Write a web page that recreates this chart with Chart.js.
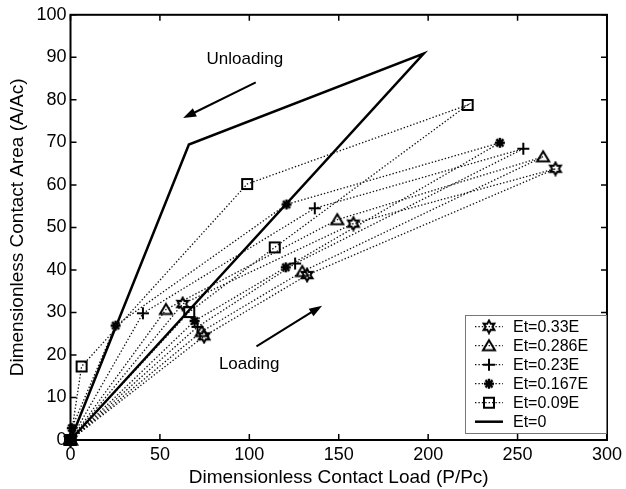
<!DOCTYPE html>
<html><head><meta charset="utf-8">
<script src="https://cdn.jsdelivr.net/npm/chart.js@4.4.0/dist/chart.umd.min.js"></script>
<style>html,body{margin:0;padding:0;background:#fff;}#wrap{width:626px;height:489px;}</style>
</head><body><div id="wrap"><canvas id="c" width="626" height="489"></canvas></div>
<script>
// ---------- data ----------
const seriesLabels = ['Et=0.33E','Et=0.286E','Et=0.23E','Et=0.167E','Et=0.09E','Et=0'];
const load033  = [0, 74.7, 132.3, 271.2, 158.2, 62.7, 0];
const area033  = [0, 24.4, 38.8, 63.8, 50.9, 32.0, 0];
const load0286 = [0, 73.3, 129.6, 264.3, 149.2, 53.4, 0];
const area0286 = [0, 25.5, 39.6, 66.6, 51.8, 30.7, 0];
const load023  = [0, 71.0, 125.6, 253.2, 136.6, 40.5, 0];
const area023  = [0, 26.6, 41.5, 68.5, 54.5, 29.8, 0];
const load0167 = [0, 69.4, 120.4, 240.1, 120.8, 25.2, 0.7, 0];
const area0167 = [0, 28.0, 40.6, 69.9, 55.4, 26.9, 2.8, 0];
const load009  = [0, 66.4, 114.2, 222.1, 98.8, 6.2, 0];
const area009  = [0, 30.1, 45.3, 78.8, 60.2, 17.3, 0];
const load0    = [0, 197.5, 66.2, 0];
const area0    = [0, 90.9, 69.5, 0];
const xTickValues = [0, 50, 100, 150, 200, 250, 300];
const yTickValues = [0, 10, 20, 30, 40, 50, 60, 70, 80, 90, 100];
const noteTexts = ['Unloading', 'Loading'];
const noteX = [97.5, 99.9];
const noteY = [89.5, 17.8];
const arrowFromX = [103.6, 104.0];
const arrowFromY = [84.1, 22.0];
const arrowToX = [63.0, 140.7];
const arrowToY = [75.7, 31.6];

const FONT = "'Liberation Sans', Arial, Helvetica, sans-serif";

// ---------- marker images ----------
function makeMarker(kind) {
  const s = 16, c = document.createElement('canvas');
  c.width = s; c.height = s;
  const g = c.getContext('2d');
  g.strokeStyle = '#000'; g.fillStyle = '#000'; g.lineWidth = 2;
  const m = s / 2;
  if (kind === 'hex') {
    g.beginPath();
    for (let i = 0; i < 12; i++) {
      const r = i % 2 === 0 ? 6.2 : 3.4;
      const a = -Math.PI / 2 + i * Math.PI / 6;
      const px = m + r * Math.cos(a), py = m + r * Math.sin(a);
      i === 0 ? g.moveTo(px, py) : g.lineTo(px, py);
    }
    g.closePath(); g.lineWidth = 2; g.stroke();
  } else if (kind === 'tri') {
    g.beginPath(); g.moveTo(m, m - 5.5); g.lineTo(m + 6, m + 4.5); g.lineTo(m - 6, m + 4.5); g.closePath(); g.stroke();
  } else if (kind === 'plus') {
    g.beginPath(); g.moveTo(m - 6, m); g.lineTo(m + 6, m); g.moveTo(m, m - 6); g.lineTo(m, m + 6); g.stroke();
  } else if (kind === 'ast') {
    g.lineWidth = 2.4;
    g.beginPath();
    for (let i = 0; i < 4; i++) {
      const a = i * Math.PI / 4;
      g.moveTo(m - 5 * Math.cos(a), m - 5 * Math.sin(a));
      g.lineTo(m + 5 * Math.cos(a), m + 5 * Math.sin(a));
    }
    g.stroke();
    g.beginPath(); g.arc(m, m, 3, 0, Math.PI * 2); g.fill();
  } else if (kind === 'sq') {
    g.strokeRect(m - 5, m - 5, 10, 10);
  }
  return c;
}
const markerKinds = ['hex', 'tri', 'plus', 'ast', 'sq', null];
const markers = markerKinds.map(k => k ? makeMarker(k) : false);

const loads = [load033, load0286, load023, load0167, load009, load0];
const areas = [area033, area0286, area023, area0167, area009, area0];

const datasets = seriesLabels.map((lab, i) => {
  const solid = i === 5;
  return {
    label: lab,
    data: loads[i].map((x, j) => ({ x: x, y: areas[i][j] })),
    showLine: true,
    borderColor: solid ? '#000' : '#111',
    borderWidth: solid ? 2.5 : 1.3,
    borderDash: solid ? [] : [1.4, 2],
    pointStyle: markers[i],
    pointRadius: solid ? 0 : 6,
    pointHoverRadius: solid ? 0 : 6,
    backgroundColor: '#000',
    tension: 0,
    clip: false,
    order: solid ? 0 : 1
  };
});

// ---------- plugin: box, ticks, notes, legend ----------
const decor = {
  id: 'decor',
  afterDatasetsDraw(chart) {
    const { ctx, chartArea: a, scales: { x, y } } = chart;
    ctx.save();
    ctx.strokeStyle = '#000';
    ctx.lineWidth = 2;
    ctx.strokeRect(a.left, a.top, a.right - a.left, a.bottom - a.top);
    ctx.lineWidth = 1.5;
    ctx.beginPath();
    xTickValues.forEach(v => {
      const px = x.getPixelForValue(v);
      ctx.moveTo(px, a.bottom); ctx.lineTo(px, a.bottom - 6);
      ctx.moveTo(px, a.top); ctx.lineTo(px, a.top + 6);
    });
    yTickValues.forEach(v => {
      const py = y.getPixelForValue(v);
      ctx.moveTo(a.left, py); ctx.lineTo(a.left + 6, py);
      ctx.moveTo(a.right, py); ctx.lineTo(a.right - 6, py);
    });
    ctx.stroke();

    // notes and arrows
    ctx.fillStyle = '#000';
    ctx.font = '17px ' + FONT;
    ctx.textAlign = 'center'; ctx.textBaseline = 'middle';
    noteTexts.forEach((t, i) => {
      ctx.fillText(t, x.getPixelForValue(noteX[i]), y.getPixelForValue(noteY[i]));
      const x0 = x.getPixelForValue(arrowFromX[i]), y0 = y.getPixelForValue(arrowFromY[i]);
      const x1 = x.getPixelForValue(arrowToX[i]), y1 = y.getPixelForValue(arrowToY[i]);
      const ang = Math.atan2(y1 - y0, x1 - x0);
      const hl = 13, hw = 4.5;
      ctx.lineWidth = 2;
      ctx.beginPath(); ctx.moveTo(x0, y0);
      ctx.lineTo(x1 - (hl - 2) * Math.cos(ang), y1 - (hl - 2) * Math.sin(ang)); ctx.stroke();
      ctx.beginPath();
      ctx.moveTo(x1, y1);
      ctx.lineTo(x1 - hl * Math.cos(ang) + hw * Math.sin(ang), y1 - hl * Math.sin(ang) - hw * Math.cos(ang));
      ctx.lineTo(x1 - hl * Math.cos(ang) - hw * Math.sin(ang), y1 - hl * Math.sin(ang) + hw * Math.cos(ang));
      ctx.closePath(); ctx.fill();
    });

    // legend
    const lx = 465.5, ly = 315.5, lw = 141, lh = 118;
    ctx.fillStyle = '#fff';
    ctx.fillRect(lx, ly, lw, lh);
    ctx.strokeStyle = '#777'; ctx.lineWidth = 1;
    ctx.strokeRect(lx, ly, lw, lh);
    ctx.font = '16px ' + FONT;
    ctx.textAlign = 'left'; ctx.textBaseline = 'middle';
    chart.data.datasets.forEach((ds, i) => {
      const cy = 326.7 + i * 19;
      ctx.strokeStyle = ds.borderColor;
      ctx.lineWidth = ds.borderWidth;
      ctx.setLineDash(ds.borderDash);
      ctx.beginPath(); ctx.moveTo(475, cy); ctx.lineTo(503, cy); ctx.stroke();
      ctx.setLineDash([]);
      if (ds.pointStyle) ctx.drawImage(ds.pointStyle, 489 - 8, cy - 8);
      ctx.fillStyle = '#000';
      ctx.fillText(ds.label, 513, cy + 1);
    });
    ctx.restore();
  }
};

new Chart(document.getElementById('c'), {
  type: 'scatter',
  data: { datasets: datasets },
  options: {
    responsive: false,
    devicePixelRatio: 1,
    animation: false,
    layout: { padding: { top: 13, right: 19, left: 0, bottom: 0 } },
    plugins: { legend: { display: false }, tooltip: { enabled: false } },
    scales: {
      x: {
        type: 'linear', min: 0, max: 300,
        afterBuildTicks: s => { s.ticks = xTickValues.map(v => ({ value: v })); },
        afterFit: s => { s.height = 49; },
        grid: { display: false, drawTicks: false, tickLength: 0 },
        border: { display: false },
        ticks: { color: '#000', font: { family: FONT, size: 18 }, padding: 4, maxRotation: 0 },
        title: { display: true, text: 'Dimensionless Contact Load (P/Pc)', color: '#000',
                 font: { family: FONT, size: 19 }, padding: { top: 0, bottom: 0 } }
      },
      y: {
        type: 'linear', min: 0, max: 100,
        afterBuildTicks: s => { s.ticks = yTickValues.map(v => ({ value: v })); },
        afterFit: s => { s.width = 70.5; },
        grid: { display: false, drawTicks: false, tickLength: 0 },
        border: { display: false },
        ticks: { color: '#000', font: { family: FONT, size: 18 }, padding: 4 },
        title: { display: true, text: 'Dimensionless Contact Area (A/Ac)', color: '#000',
                 font: { family: FONT, size: 19 }, padding: { top: 6, bottom: 0 } }
      }
    }
  },
  plugins: [decor]
});
</script></body></html>
